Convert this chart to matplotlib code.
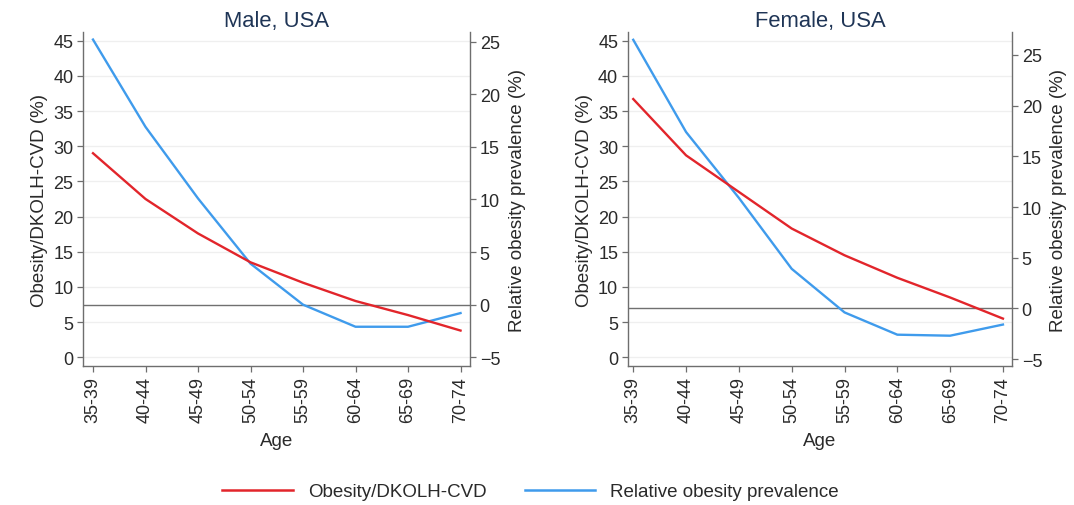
import matplotlib
matplotlib.use("Agg")
import matplotlib.pyplot as plt
import numpy as np
from matplotlib.lines import Line2D

plt.rcParams['font.family'] = ['Liberation Sans', 'DejaVu Sans']

age_groups = ["35-39", "40-44", "45-49", "50-54", "55-59", "60-64", "65-69", "70-74"]

male_ratio = [29.0, 22.5, 17.6, 13.5, 10.6, 8.0, 6.0, 3.8]
male_relative = [25.2, 16.9, 10.1, 3.9, 0.0, -2.1, -2.1, -0.8]

female_ratio = [36.7, 28.7, 23.5, 18.3, 14.5, 11.3, 8.5, 5.5]
female_relative = [26.5, 17.4, 10.9, 3.9, -0.4, -2.6, -2.7, -1.6]

titles = ["Male, USA", "Female, USA"]
left_ticks = [0, 5, 10, 15, 20, 25, 30, 35, 40, 45]
right_ticks = [-5, 0, 5, 10, 15, 20, 25]

RED = "#e2252b"
BLUE = "#3f9bec"
SPINE = "#6e6e6e"
TEXT = "#2a2a2a"
TITLE = "#1f3556"

fig = plt.figure(figsize=(10.74, 5.06), dpi=100)

panels = [
    dict(pos=[0.0773, 0.2741, 0.3603, 0.6607], ratio=male_ratio, rel=male_relative,
         xlim=(-0.19, 7.18), rlim=(-5.86, 25.92), title=titles[0]),
    dict(pos=[0.5847, 0.2741, 0.3575, 0.6607], ratio=female_ratio, rel=female_relative,
         xlim=(-0.10, 7.17), rlim=(-5.72, 27.27), title=titles[1]),
]

x = np.arange(len(age_groups))
for p in panels:
    ax = fig.add_axes(p["pos"])
    ax2 = ax.twinx()
    ax.set_zorder(ax2.get_zorder() + 1)
    ax.patch.set_visible(False)

    ax.set_xlim(*p["xlim"])
    ax.set_ylim(-1.28, 46.23)
    ax2.set_ylim(*p["rlim"])

    # faint grid at left-axis ticks, drawn on the lower axes
    for t in left_ticks:
        ax2.plot(p["xlim"], [t, t], transform=ax.transData, color="#efefef", lw=0.9, zorder=0)
    ax2.axhline(0, color="#707070", lw=1.0, zorder=1)

    ax2.plot(x, p["rel"], color=BLUE, lw=1.7, zorder=3)
    ax.plot(x, p["ratio"], color=RED, lw=1.7, zorder=3)

    ax.set_yticks(left_ticks)
    ax2.set_yticks(right_ticks)
    ax.set_xticks(x)
    ax.set_xticklabels(age_groups, rotation=90)

    for a in (ax, ax2):
        a.spines["top"].set_visible(False)
        for s in ("left", "right", "bottom"):
            a.spines[s].set_color(SPINE)
            a.spines[s].set_linewidth(1.0)
        a.tick_params(colors=SPINE, labelcolor=TEXT, labelsize=13, length=4.5, width=0.9, pad=2.5)
    ax.spines["right"].set_visible(False)
    ax2.spines["left"].set_visible(False)
    ax2.spines["bottom"].set_visible(False)

    ax.set_ylabel("Obesity/DKOLH-CVD (%)", fontsize=13.5, color=TEXT, labelpad=4)
    ax2.set_ylabel("Relative obesity prevalence (%)", fontsize=13.5, color=TEXT, labelpad=6)
    ax.set_xlabel("Age", fontsize=13.5, color=TEXT, labelpad=7)
    ax.set_title(p["title"], fontsize=15.8, color=TITLE, pad=4.5)

handles = [Line2D([], [], color=RED, lw=1.8), Line2D([], [], color=BLUE, lw=1.8)]
fig.legend(handles, ["Obesity/DKOLH-CVD", "Relative obesity prevalence"],
           loc="center", bbox_to_anchor=(0.494, 0.026), ncol=2, frameon=False,
           fontsize=13.5, handlelength=3.75, handletextpad=0.8, columnspacing=2.05,
           labelcolor=TEXT)

fig.savefig("out.png", dpi=100)
